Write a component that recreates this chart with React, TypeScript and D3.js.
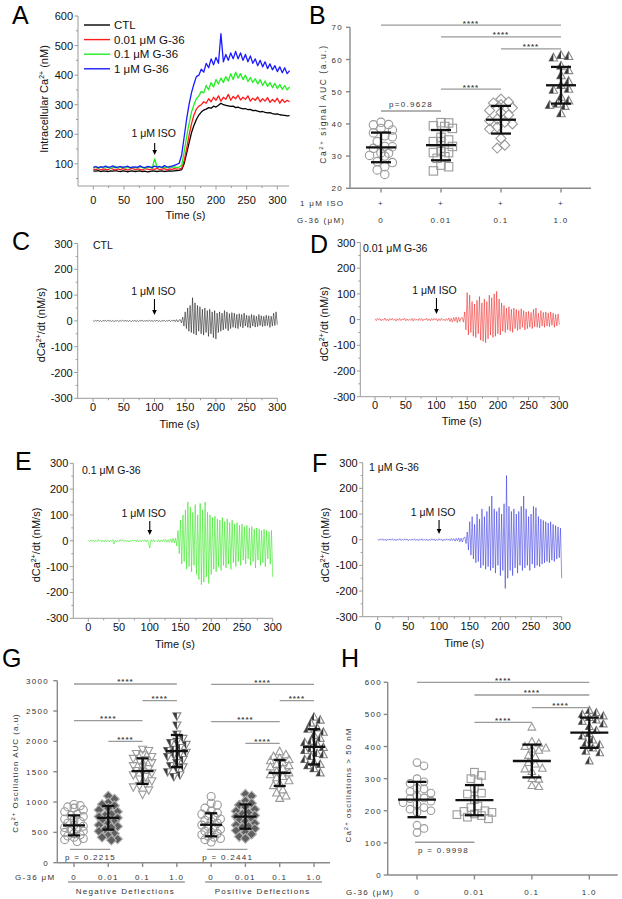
import React from 'react';
import * as d3 from 'd3';

const FONT = "'Liberation Sans', Arial, Helvetica, sans-serif";

// ---------- Panel A: intracellular Ca2+ (nM), sampled every 4 s from 0 to 320 s ----------
const aStep = 4;
const caCTL = [76,75,77,74,76,75,74,76,75,77,75,74,76,75,73,75,76,74,75,76,74,75,73,74,76,75,74,75,76,74,75,76,75,76,77,78,
  80,100,135,170,205,230,250,265,275,282,285,290,288,295,292,298,305,300,298,296,
  294,295,290,292,288,286,287,283,284,280,281,278,276,277,274,272,273,270,268,269,266,265,264,262,263];
const caG001 = [82,80,84,79,83,81,80,85,82,79,83,80,84,81,79,82,85,80,83,81,79,84,82,80,83,81,85,80,82,84,79,83,81,84,82,83,
  85,110,150,195,235,265,285,295,300,310,305,320,310,325,315,330,312,325,318,335,
  315,328,320,332,316,325,318,330,312,322,315,326,310,320,312,324,308,318,310,322,305,318,308,315,310];
const caG01 = [86,88,85,90,87,86,89,85,88,92,86,87,90,85,88,87,89,86,88,90,87,85,89,88,86,117,88,90,87,89,86,92,88,90,87,89,
  95,140,190,235,275,300,320,330,345,340,365,350,375,360,385,370,390,375,395,380,
  405,385,410,390,405,385,400,378,392,375,388,370,385,365,380,362,375,358,372,355,368,352,365,350,360];
const caG1 = [88,91,87,90,89,92,88,90,93,87,89,91,88,90,92,87,89,90,88,93,89,87,91,90,88,92,89,91,88,94,90,89,92,95,98,102,
  130,190,250,300,340,370,395,400,420,410,440,425,455,435,460,440,540,445,470,450,
  475,455,480,455,475,450,470,445,465,440,455,432,450,428,445,422,438,418,432,412,428,408,425,405,415];
const legendLabels = ['CTL', '0.01 μM G-36', '0.1 μM G-36', '1 μM G-36'];
const traceColors = ['#000000', '#ff1a1a', '#22ee22', '#1a1aff'];

// ---------- Panels C-F: dCa2+/dt (nM/s), sampled every 2 s from 0 to 300 s ----------
const dStep = 2;
const dBaseCTL = [1,-2,2,-1,3,-2,1,-3,2,-1,2,-2,3,-1,1,-2,2,-3,1,-1,2,-2,1,-1,3,-2,2,-1,1,-2,2,-3,1,-1,2,-2,1,-3,2,-1,
  3,-2,1,-1,2,-2,3,-1,1,-2,2,-1,3,-2,1,-3,2,-1,2,-2,1,-1,3,-2,2,-1,4,-3,5,-4,3];
const dBurstCTL = [5,-8,15,-20,35,-30,50,-40,60,-45,90,-50,70,-55,60,-40,55,-50,45,-55,50,-45,40,-60,45,-50,35,-65,40,-70,
  30,-45,35,-40,30,-35,40,-30,35,-38,28,-30,32,-25,30,-28,25,-30,28,-22,25,-27,30,-20,22,-25,20,-28,25,-20,
  22,-24,18,-22,25,-18,20,-22,18,-20,22,-18,20,-25,18,-20,30,-18,35,-15];
const dBaseG001 = [3,-4,5,-2,4,-5,2,-3,6,-4,3,-5,4,-2,5,-3,2,-6,4,-3,5,-4,3,-2,6,-5,3,-4,2,-3,5,-6,4,-3,2,-4,5,-3,4,-5,
  3,-2,6,-4,3,-5,4,-3,5,-2,4,-6,3,-4,5,-3,2,-5,4,-3,6,-8,5,-10,8,-6,10,-12,9,-8,6];
const dBurstG001 = [8,-10,30,-40,105,-60,95,-50,70,-65,60,-70,75,-55,90,-80,65,-85,80,-90,70,-75,95,-60,85,-70,100,-65,110,-55,
  80,-60,65,-45,55,-50,45,-40,50,-45,40,-50,45,-35,40,-42,35,-38,42,-30,35,-40,30,-35,32,-30,28,-35,40,-28,
  45,-30,25,-32,35,-25,28,-30,30,-25,26,-28,30,-22,25,-30,20,-25,22,-20];
const dBaseG01 = [2,-3,4,-2,3,-4,2,-3,5,-2,3,-4,2,-5,4,-3,2,-4,3,-2,4,-12,3,-4,2,-3,5,-2,4,-3,2,-4,3,-5,2,-3,4,-2,3,-4,
  5,-3,2,-4,3,-2,4,-5,3,-6,-28,4,-3,5,-4,2,-3,4,-5,3,-4,5,-3,6,-5,4,-6,8,-7,9,-8];
const dBurstG01 = [10,-20,40,-50,80,-90,100,-80,120,-110,150,-100,130,-120,110,-95,140,-130,100,-150,145,-170,120,-160,150,-140,110,-165,100,-130,
  90,-110,95,-120,85,-100,80,-115,90,-95,75,-105,85,-90,70,-110,80,-85,65,-100,70,-80,60,-95,65,-75,55,-90,60,-70,
  50,-95,55,-80,45,-105,50,-75,45,-95,40,-85,45,-100,40,-70,35,-90,40,-140];
const dBaseG1 = [2,-3,3,-2,4,-3,2,-4,3,-2,3,-2,4,-3,2,-4,3,-2,4,-3,2,-3,4,-2,3,-4,2,-3,3,-2,4,-3,2,-4,3,-2,4,-3,2,-3,
  3,-4,2,-3,4,-2,3,-4,2,-3,4,-2,3,-5,2,-3,4,-2,3,-4,5,-3,4,-6,5,-4,7,-8,6,-9,7];
const dBurstG1 = [10,-15,30,-40,70,-60,90,-75,60,-90,100,-85,80,-110,120,-100,90,-115,110,-105,130,-120,170,-110,120,-130,110,-100,125,-140,
  100,-120,140,-190,250,-150,130,-120,110,-140,120,-110,100,-130,110,-100,130,-120,170,-110,120,-100,90,-120,100,-95,130,-110,125,-100,
  90,-105,80,-95,75,-90,70,-85,65,-90,70,-80,60,-85,55,-75,50,-70,45,-150];
const isoTime = 100;

// ---------- Panel B: Ca2+ signal AUC ----------
const bCats = ['0', '0.01', '0.1', '1.0'];
const bCTL = [40.5,39.8,39.7,38.6,38.1,37.2,36.3,36.0,34.5,33.0,32.9,32.4,31.0,30.9,30.0,30.2,28.3,28.0,26.7,25.7,24.3];
const bG001 = [40.4,40.3,39.4,39.2,38.6,35.8,35.0,34.5,34.5,33.0,31.4,31.1,31.1,29.8,29.3,27.2,26.7,25.4];
const bG01 = [47.7,46.8,46.5,46.0,45.0,44.2,43.6,42.8,41.5,41.0,40.5,40.0,39.0,38.4,35.5,33.4,32.5];
const bG1 = [61.3,61.0,60.5,58.0,56.6,55.0,53.2,52.0,50.8,50.5,48.3,47.2,46.2,45.8,45.5,43.2];
const bMeans = [32.7, 33.4, 41.3, 52.0];
const bSDs = [4.6, 4.7, 4.3, 5.7];
const bTicks = [20, 30, 40, 50, 60, 70];
const bSig: [number, number, number, string][] = [[0, 3, 70.7, '****'], [1, 3, 67.0, '****'], [2, 3, 63.3, '****'], [1, 2, 50.8, '****']];

// ---------- Panel G: Ca2+ oscillation AUC ----------
const gCats = ['0', '0.01', '0.1', '1.0', '0', '0.01', '0.1', '1.0'];
const gNeg0 = [960,940,920,900,870,840,800,780,760,720,700,680,650,620,600,580,560,540,520,500,480,460,440,420,400,380,350];
const gNeg001 = [1100,1050,990,960,940,900,870,840,800,780,760,740,720,700,680,650,620,600,580,550,520,480,450,420,390,370];
const gNeg01 = [1870,1850,1800,1780,1750,1720,1700,1680,1650,1600,1580,1550,1520,1500,1480,1450,1420,1380,1350,1300,1270,1250,1200,1130];
const gNeg1 = [2420,2270,2120,2050,2000,1980,1950,1900,1870,1850,1820,1800,1780,1750,1700,1650,1600,1580,1550,1500,1450,1420];
const gPos0 = [1090,980,950,900,850,820,800,780,750,720,700,680,650,620,600,580,550,520,500,480,460,440,420,400,380,340];
const gPos001 = [1130,1100,1020,980,950,920,880,850,820,800,780,760,740,720,700,680,650,620,600,580,560,530,500,470,430,400];
const gPos01 = [1830,1780,1750,1720,1700,1680,1650,1620,1600,1580,1550,1500,1480,1450,1420,1400,1350,1300,1270,1200,1150,1100,1060];
const gPos1 = [2400,2350,2300,2220,2200,2150,2100,2050,2000,1980,1950,1900,1880,1850,1800,1780,1750,1700,1650,1620,1600,1550,1480];
const gMeans = [615, 740, 1510, 1840, 625, 760, 1480, 1910];
const gSDs = [165, 195, 210, 265, 190, 200, 215, 290];
const gTicks = [0, 500, 1000, 1500, 2000, 2500, 3000];
const gSig: [number, number, number, string][] = [
  [0, 3, 2946, '****'], [2, 3, 2670, '****'], [0, 2, 2341, '****'], [1, 2, 2001, '****'],
  [4, 7, 2941, '****'], [6, 7, 2670, '****'], [4, 6, 2324, '****'], [5, 6, 1968, '****'],
];
const gP: [number, number, number, string][] = [[0, 1, 221, 'p = 0.2215'], [4, 5, 221, 'p = 0.2441']];
const gGroupLabels = ['Negative Deflections', 'Positive Deflections'];

// ---------- Panel H: oscillations > 50 nM ----------
const hCats = ['0', '0.01', '0.1', '1.0'];
const hCTL = [350,340,300,290,285,270,268,260,255,245,240,238,230,225,220,210,205,200,195,155,145,132];
const hG001 = [320,310,300,290,270,255,252,235,215,210,200,198,195,190,188,185,180,175];
const hG01 = [460,415,410,400,395,392,388,372,368,350,345,332,330,322,300,298,278,275];
const hG1 = [512,505,500,495,490,482,478,470,462,450,440,432,420,410,405,395,385,380,355];
const hMeans = [235, 233, 355, 443];
const hSDs = [55, 47, 51, 47];
const hTicks = [0, 100, 200, 300, 400, 500, 600];
const hSig: [number, number, number, string][] = [[0, 3, 600, '****'], [1, 3, 560.5, '****'], [2, 3, 521, '****'], [1, 2, 475.5, '****']];

// ---------- helpers ----------
const AX = '#9a9a9a';
const SYM = '#9a9a9a';
const DARK = '#3a3a3a';

type Series = { values: number[]; step: number; color: string; width: number; opacity: number };

function supLabel(pre: string, sup: string, post: string, dy = -4, size = 7) {
  return (
    <>
      <tspan>{pre}</tspan>
      <tspan dy={dy} fontSize={size}>{sup}</tspan>
      <tspan dy={-dy}>{post}</tspan>
    </>
  );
}

function TimePanel(p: {
  xr: [number, number]; xd: [number, number]; yr: [number, number]; yd: [number, number];
  yTicks: number[]; yMinor: number[]; xTicks: number[]; xMinor: number[];
  series: Series[]; xLabelY: number; xTitleY: number;
  yTitleX: number; yTitleY: number; yTitle: React.ReactNode;
}) {
  const x = d3.scaleLinear().domain(p.xd).range(p.xr);
  const y = d3.scaleLinear().domain(p.yd).range(p.yr);
  const [yb, yt] = p.yr;
  const [xl, xrr] = p.xr;
  return (
    <g fontFamily={FONT}>
      {p.series.map((s, i) => {
        const line = d3.line<number>().x((_, j) => x(j * s.step)).y((d) => y(d));
        return <path key={i} d={line(s.values) || ''} fill="none" stroke={s.color} strokeWidth={s.width} strokeOpacity={s.opacity} strokeLinejoin="round" />;
      })}
      <line x1={xl} x2={xl} y1={yb} y2={yt} stroke={AX} strokeWidth={1} />
      <line x1={xl} x2={xrr} y1={yb} y2={yb} stroke={AX} strokeWidth={1} />
      {p.yTicks.map((t) => (
        <g key={'y' + t}>
          <line x1={xl - 3.5} x2={xl} y1={y(t)} y2={y(t)} stroke={AX} />
          <text x={xl - 5} y={y(t) + 4} textAnchor="end" fontSize={11} fill="#111">{t}</text>
        </g>
      ))}
      {p.yMinor.map((t) => <line key={'ym' + t} x1={xl - 2} x2={xl} y1={y(t)} y2={y(t)} stroke={AX} />)}
      {p.xTicks.map((t) => (
        <g key={'x' + t}>
          <line x1={x(t)} x2={x(t)} y1={yb} y2={yb + 3.5} stroke={AX} />
          <text x={x(t)} y={p.xLabelY} textAnchor="middle" fontSize={11} fill="#111">{t}</text>
        </g>
      ))}
      {p.xMinor.map((t) => <line key={'xm' + t} x1={x(t)} x2={x(t)} y1={yb} y2={yb + 2} stroke={AX} />)}
      <text x={(xl + xrr) / 2 + 2} y={p.xTitleY} textAnchor="middle" fontSize={11} fill="#111">Time (s)</text>
      <text transform={`translate(${p.yTitleX},${p.yTitleY}) rotate(-90)`} textAnchor="middle" fontSize={11} fill="#111">{p.yTitle}</text>
    </g>
  );
}

function IsoArrow({ x, yText, yTop, yTip, dx = 0 }: { x: number; yText: number; yTop: number; yTip: number; dx?: number }) {
  return (
    <g fontFamily={FONT}>
      <text x={x + dx} y={yText} textAnchor="middle" fontSize={10.5} fill="#111">1 μM ISO</text>
      <line x1={x} x2={x} y1={yTop} y2={yTip - 4} stroke="#000" strokeWidth={1.1} />
      <path d={`M${x - 2.3},${yTip - 5}L${x + 2.3},${yTip - 5}L${x},${yTip}Z`} fill="#000" />
    </g>
  );
}

function swarm(vals: number[], yf: (v: number) => number, minDist: number, maxW: number, step: number) {
  const pts = vals.map((v) => ({ v, py: yf(v) })).sort((a, b) => a.py - b.py);
  const placed: { v: number; py: number; dx: number }[] = [];
  const nk = Math.floor(maxW / step) * 2;
  for (const p of pts) {
    let best = 0;
    let bestScore = -Infinity;
    for (let k = 0; k <= nk; k++) {
      const dx = (k % 2 === 1 ? 1 : -1) * Math.ceil(k / 2) * step;
      let mind = Infinity;
      for (const q of placed) {
        const d = Math.hypot(dx - q.dx, p.py - q.py);
        if (d < mind) mind = d;
      }
      if (mind >= minDist) { best = dx; bestScore = Infinity; break; }
      if (mind > bestScore + 0.5) { bestScore = mind; best = dx; }
    }
    placed.push({ ...p, dx: best });
  }
  return placed;
}

function Sym({ kind, x, y, r }: { kind: string; x: number; y: number; r: number }) {
  const sw = 1.1;
  const up = `M${x},${y - r * 1.1}L${x + r},${y + r * 0.75}L${x - r},${y + r * 0.75}Z`;
  const upHalf = `M${x},${y - r * 1.1}L${x},${y + r * 0.75}L${x - r},${y + r * 0.75}Z`;
  const dn = `M${x},${y + r * 1.1}L${x + r},${y - r * 0.75}L${x - r},${y - r * 0.75}Z`;
  const dnHalf = `M${x},${y + r * 1.1}L${x},${y - r * 0.75}L${x - r},${y - r * 0.75}Z`;
  const dia = `M${x},${y - r * 1.2}L${x + r * 1.2},${y}L${x},${y + r * 1.2}L${x - r * 1.2},${y}Z`;
  switch (kind) {
    case 'circle': return <circle cx={x} cy={y} r={r} fill="none" stroke={SYM} strokeWidth={sw} />;
    case 'square': return <rect x={x - r} y={y - r} width={2 * r} height={2 * r} fill="none" stroke={SYM} strokeWidth={sw} />;
    case 'diamond': return <path d={dia} fill="none" stroke={SYM} strokeWidth={sw} />;
    case 'diamondDark': return <path d={dia} fill="#5f5f5f" stroke="#b0b0b0" strokeWidth={sw} />;
    case 'tri': return <path d={up} fill="none" stroke={SYM} strokeWidth={sw} />;
    case 'triHalf': return <g><path d={up} fill="#fff" stroke="#888" strokeWidth={sw} /><path d={upHalf} fill={DARK} /></g>;
    case 'triDown': return <path d={dn} fill="none" stroke={SYM} strokeWidth={sw} />;
    case 'triDownHalf': return <g><path d={dn} fill="#fff" stroke="#888" strokeWidth={sw} /><path d={dnHalf} fill={DARK} /></g>;
    default: return null;
  }
}

type Group = { values: number[]; mean: number; sd: number; kind: string };

function ScatterGroups(p: {
  groups: Group[]; cx: (i: number) => number; y: d3.ScaleLinear<number, number>;
  r: number; minDist: number; maxW: number; meanHW: number; capHW: number;
}) {
  return (
    <g>
      {p.groups.map((g, gi) => {
        const pts = swarm(g.values, p.y, p.minDist, p.maxW, p.minDist * 0.5);
        const c = p.cx(gi);
        return (
          <g key={gi}>
            {pts.map((pt, i) => <Sym key={i} kind={g.kind} x={c + pt.dx} y={pt.py} r={p.r} />)}
          </g>
        );
      })}
      {p.groups.map((g, gi) => {
        const c = p.cx(gi);
        const ym = p.y(g.mean), y1 = p.y(g.mean + g.sd), y0 = p.y(g.mean - g.sd);
        return (
          <g key={'m' + gi} stroke="#111" strokeWidth={2.3}>
            <line x1={c - p.meanHW} x2={c + p.meanHW} y1={ym} y2={ym} />
            <line x1={c} x2={c} y1={y1} y2={y0} />
            <line x1={c - p.capHW} x2={c + p.capHW} y1={y1} y2={y1} />
            <line x1={c - p.capHW} x2={c + p.capHW} y1={y0} y2={y0} />
          </g>
        );
      })}
    </g>
  );
}

const PF = { fontFamily: FONT, fontSize: 8, letterSpacing: 1.3, fill: '#333' } as const;

function SigBars({ sig, cx, y }: { sig: [number, number, number, string][]; cx: (i: number) => number; y: (v: number) => number }) {
  return (
    <g>
      {sig.map(([a, b, lv, lab], i) => (
        <g key={i}>
          <line x1={cx(a)} x2={cx(b)} y1={y(lv)} y2={y(lv)} stroke="#9a9a9a" strokeWidth={1.3} />
          <text x={(cx(a) + cx(b)) / 2} y={y(lv) + 0.5} textAnchor="middle" fontFamily={FONT} fontSize={8} fontWeight="bold" letterSpacing={1} fill="#444">{lab}</text>
        </g>
      ))}
    </g>
  );
}

function PrismYAxis({ x, y, ticks, labelX }: { x: number; y: d3.ScaleLinear<number, number>; ticks: number[]; labelX: number }) {
  const d = y.domain();
  return (
    <g>
      <line x1={x} x2={x} y1={y(d[0])} y2={y(d[1])} stroke="#8a8a8a" strokeWidth={1.4} />
      {ticks.map((t) => (
        <g key={t}>
          <line x1={x - 4} x2={x} y1={y(t)} y2={y(t)} stroke="#8a8a8a" strokeWidth={1.4} />
          <text x={labelX} y={y(t) + 3} textAnchor="end" {...PF}>{t}</text>
        </g>
      ))}
    </g>
  );
}

export default function App() {
  const aSeries: Series[] = [caCTL, caG001, caG01, caG1].map((v, i) => ({ values: v, step: aStep, color: traceColors[i], width: 1.3, opacity: 1 }));
  const xA = d3.scaleLinear().domain([-25, 319]).range([78, 289]);

  const dTicksY = [-300, -200, -100, 0, 100, 200, 300];
  const dMinorY = [-250, -150, -50, 50, 150, 250];
  const dTicksX = [0, 50, 100, 150, 200, 250, 300];
  const dMinorX = [25, 75, 125, 175, 225, 275];
  const dTitle = supLabel('dCa', '2+', '/dt (nM/s)');

  const dC = { values: [...dBaseCTL, ...dBurstCTL], step: dStep, color: '#1a1a1a', width: 0.8, opacity: 0.7 };
  const dD = { values: [...dBaseG001, ...dBurstG001], step: dStep, color: '#ee1c1c', width: 0.8, opacity: 0.65 };
  const dE = { values: [...dBaseG01, ...dBurstG01], step: dStep, color: '#33e81f', width: 0.8, opacity: 0.75 };
  const dF = { values: [...dBaseG1, ...dBurstG1], step: dStep, color: '#2a2ae0', width: 0.8, opacity: 0.65 };

  const xC = d3.scaleLinear().domain([-25, 300]).range([77.7, 277.3]);
  const xD = d3.scaleLinear().domain([-24, 300]).range([360.3, 559.3]);
  const xE = d3.scaleLinear().domain([-24.4, 300]).range([73.3, 272.7]);
  const xF = d3.scaleLinear().domain([-24.5, 300]).range([362.7, 561.7]);

  const yB = d3.scaleLinear().domain([20, 70]).range([188.3, 27.3]);
  const xB = d3.scalePoint<number>().domain([0, 1, 2, 3]).range([381, 561]);
  const bcx = (i: number) => xB(i) as number;
  const bGroups: Group[] = [
    { values: bCTL, mean: bMeans[0], sd: bSDs[0], kind: 'circle' },
    { values: bG001, mean: bMeans[1], sd: bSDs[1], kind: 'square' },
    { values: bG01, mean: bMeans[2], sd: bSDs[2], kind: 'diamond' },
    { values: bG1, mean: bMeans[3], sd: bSDs[3], kind: 'triHalf' },
  ];

  const yG = d3.scaleLinear().domain([0, 3000]).range([862.7, 680.7]);
  const xG = d3.scalePoint<number>().domain(d3.range(8)).range([74, 314]);
  const gcx = (i: number) => xG(i) as number;
  const gVals = [gNeg0, gNeg001, gNeg01, gNeg1, gPos0, gPos001, gPos01, gPos1];
  const gKinds = ['circle', 'diamondDark', 'triDown', 'triDownHalf', 'circle', 'diamondDark', 'tri', 'triHalf'];
  const gGroups: Group[] = gVals.map((v, i) => ({ values: v, mean: gMeans[i], sd: gSDs[i], kind: gKinds[i] }));

  const yH = d3.scaleLinear().domain([0, 600]).range([875, 682.3]);
  const xH = d3.scalePoint<number>().domain([0, 1, 2, 3]).range([417, 589.3]);
  const hcx = (i: number) => xH(i) as number;
  const hGroups: Group[] = [
    { values: hCTL, mean: hMeans[0], sd: hSDs[0], kind: 'circle' },
    { values: hG001, mean: hMeans[1], sd: hSDs[1], kind: 'square' },
    { values: hG01, mean: hMeans[2], sd: hSDs[2], kind: 'tri' },
    { values: hG1, mean: hMeans[3], sd: hSDs[3], kind: 'triHalf' },
  ];

  const letter = (t: string, x: number, y: number) => (
    <text x={x} y={y} fontFamily={FONT} fontSize={25} fill="#000">{t}</text>
  );

  return (
    <svg width={622} height={899} style={{ position: 'absolute', left: 0, top: 0, background: '#fff' }}>
      <rect width={622} height={899} fill="#fff" />
      {letter('A', 12, 24)}
      {letter('B', 309, 24)}
      {letter('C', 12, 250)}
      {letter('D', 310, 253)}
      {letter('E', 15, 470)}
      {letter('F', 312, 472)}
      {letter('G', 2, 667)}
      {letter('H', 341, 667)}

      {/* Panel A */}
      <TimePanel xr={[78, 289]} xd={[-25, 319]} yr={[186, 16]} yd={[25, 600]}
        yTicks={[100, 200, 300, 400, 500, 600]} yMinor={[50, 150, 250, 350, 450, 550]}
        xTicks={[0, 50, 100, 150, 200, 250, 300]} xMinor={[25, 75, 125, 175, 225, 275]}
        series={aSeries} xLabelY={204} xTitleY={219}
        yTitleX={48} yTitleY={99} yTitle={supLabel('Intracellular Ca', '2+', ' (nM)')} />
      <g fontFamily={FONT}>
        {legendLabels.map((l, i) => (
          <g key={l}>
            <line x1={84} x2={110} y1={25 + i * 14.6} y2={25 + i * 14.6} stroke={traceColors[i]} strokeWidth={1.4} />
            <text x={114} y={29 + i * 14.6} fontSize={11.5} fill="#111">{l}</text>
          </g>
        ))}
      </g>
      <IsoArrow x={xA(isoTime)} yText={137} yTop={143} yTip={155} dx={-1} />

      {/* Panel B */}
      <ScatterGroups groups={bGroups} cx={bcx} y={yB} r={4.2} minDist={7.6} maxW={15} meanHW={15} capHW={10} />
      <PrismYAxis x={350} y={yB} ticks={bTicks} labelX={343} />
      <line x1={350} x2={591} y1={188.3} y2={188.3} stroke="#8a8a8a" strokeWidth={1.4} />
      {bCats.map((c, i) => (
        <g key={c}>
          <line x1={bcx(i)} x2={bcx(i)} y1={188.3} y2={192.5} stroke="#8a8a8a" strokeWidth={1.4} />
          <text x={bcx(i)} y={206} textAnchor="middle" {...PF}>+</text>
          <text x={bcx(i)} y={223} textAnchor="middle" {...PF}>{c}</text>
        </g>
      ))}
      <text x={300} y={206} {...PF}>1 μM ISO</text>
      <text x={297} y={223} {...PF}>G-36 (μM)</text>
      <SigBars sig={bSig} cx={bcx} y={yB} />
      <line x1={bcx(0)} x2={bcx(1)} y1={yB(44)} y2={yB(44)} stroke="#9a9a9a" strokeWidth={1.3} />
      <text x={(bcx(0) + bcx(1)) / 2} y={yB(44) - 4} textAnchor="middle" {...PF}>p=0.9628</text>
      <text transform="translate(326,104) rotate(-90)" textAnchor="middle" {...PF} fontSize={8.5} letterSpacing={1.6}>
        {supLabel('Ca', '2+', ' signal AUC (a.u.)', -3, 6)}
      </text>

      {/* Panel C */}
      <TimePanel xr={[77.7, 277.3]} xd={[-25, 300]} yr={[398.3, 243.5]} yd={[-300, 300]}
        yTicks={dTicksY} yMinor={dMinorY} xTicks={dTicksX} xMinor={dMinorX}
        series={[dC]} xLabelY={410.5} xTitleY={428} yTitleX={45} yTitleY={325} yTitle={dTitle} />
      <text x={93} y={249} fontFamily={FONT} fontSize={10.5} fill="#111">CTL</text>
      <IsoArrow x={xC(isoTime)} yText={295} yTop={299} yTip={315} dx={-1} />

      {/* Panel D */}
      <TimePanel xr={[360.3, 559.3]} xd={[-24, 300]} yr={[396.7, 242.5]} yd={[-300, 300]}
        yTicks={dTicksY} yMinor={dMinorY} xTicks={dTicksX} xMinor={dMinorX}
        series={[dD]} xLabelY={409} xTitleY={424.5} yTitleX={328} yTitleY={324} yTitle={dTitle} />
      <text x={363} y={252} fontFamily={FONT} fontSize={10.5} fill="#111">0.01 μM G-36</text>
      <IsoArrow x={xD(isoTime)} yText={293.5} yTop={298} yTip={314} dx={-2} />

      {/* Panel E */}
      <TimePanel xr={[73.3, 272.7]} xd={[-24.4, 300]} yr={[618.3, 463.3]} yd={[-300, 300]}
        yTicks={dTicksY} yMinor={dMinorY} xTicks={dTicksX} xMinor={dMinorX}
        series={[dE]} xLabelY={631} xTitleY={648} yTitleX={40} yTitleY={545} yTitle={dTitle} />
      <text x={82} y={474} fontFamily={FONT} fontSize={10.5} fill="#111">0.1 μM G-36</text>
      <IsoArrow x={xE(isoTime)} yText={517} yTop={521} yTip={535} dx={-6} />

      {/* Panel F */}
      <TimePanel xr={[362.7, 561.7]} xd={[-24.5, 300]} yr={[616.7, 462.7]} yd={[-300, 300]}
        yTicks={dTicksY} yMinor={dMinorY} xTicks={dTicksX} xMinor={dMinorX}
        series={[dF]} xLabelY={629.5} xTitleY={646.5} yTitleX={329} yTitleY={545} yTitle={dTitle} />
      <text x={369} y={471} fontFamily={FONT} fontSize={10.5} fill="#111">1 μM G-36</text>
      <IsoArrow x={xF(isoTime)} yText={516} yTop={520} yTip={534} dx={-6} />

      {/* Panel G */}
      <ScatterGroups groups={gGroups} cx={gcx} y={yG} r={4} minDist={6.2} maxW={11} meanHW={11} capHW={6} />
      <PrismYAxis x={57.3} y={yG} ticks={gTicks} labelX={49} />
      <line x1={57.3} x2={330} y1={862.7} y2={862.7} stroke="#8a8a8a" strokeWidth={1.4} />
      {gCats.map((c, i) => (
        <g key={i}>
          <line x1={gcx(i)} x2={gcx(i)} y1={862.7} y2={867} stroke="#8a8a8a" strokeWidth={1.4} />
          <text x={gcx(i)} y={879.5} textAnchor="middle" {...PF}>{c}</text>
        </g>
      ))}
      <text x={15} y={879.5} {...PF}>G-36 μM</text>
      {gGroupLabels.map((l, k) => (
        <g key={l}>
          <line x1={gcx(k * 4) - 6} x2={gcx(k * 4 + 3) + 8} y1={882} y2={882} stroke="#9a9a9a" strokeWidth={1.3} />
          <text x={(gcx(k * 4) + gcx(k * 4 + 3)) / 2} y={894} textAnchor="middle" {...PF}>{l}</text>
        </g>
      ))}
      <SigBars sig={gSig} cx={gcx} y={yG} />
      {gP.map(([a, b, lv, lab], i) => (
        <g key={i}>
          <line x1={gcx(a) - 4} x2={gcx(b) + 2} y1={yG(lv)} y2={yG(lv)} stroke="#9a9a9a" strokeWidth={1.3} />
          <text x={gcx(a) - 9} y={yG(lv) + 11} {...PF}>{lab}</text>
        </g>
      ))}
      <text transform="translate(18,773) rotate(-90)" textAnchor="middle" {...PF} letterSpacing={1}>
        {supLabel('Ca', '2+', ' Oscillation AUC (a.u)', -3, 6)}
      </text>

      {/* Panel H */}
      <ScatterGroups groups={hGroups} cx={hcx} y={yH} r={3.8} minDist={7} maxW={18} meanHW={19} capHW={9.5} />
      <PrismYAxis x={387.7} y={yH} ticks={hTicks} labelX={382} />
      <line x1={387.7} x2={617.7} y1={875} y2={875} stroke="#8a8a8a" strokeWidth={1.4} />
      {hCats.map((c, i) => (
        <g key={c}>
          <line x1={hcx(i)} x2={hcx(i)} y1={875} y2={879.5} stroke="#8a8a8a" strokeWidth={1.4} />
          <text x={hcx(i)} y={894.5} textAnchor="middle" {...PF}>{c}</text>
        </g>
      ))}
      <text x={346} y={894.5} {...PF}>G-36 (μM)</text>
      <SigBars sig={hSig} cx={hcx} y={yH} />
      <line x1={hcx(0) - 2} x2={hcx(1)} y1={yH(102)} y2={yH(102)} stroke="#9a9a9a" strokeWidth={1.3} />
      <text x={hcx(0) + 1} y={yH(102) + 11} {...PF}>p = 0.9998</text>
      <text transform="translate(351,785) rotate(-90)" textAnchor="middle" {...PF} letterSpacing={1}>
        {supLabel('Ca', '2+', ' oscillations > 50 nM', -3, 6)}
      </text>
    </svg>
  );
}
